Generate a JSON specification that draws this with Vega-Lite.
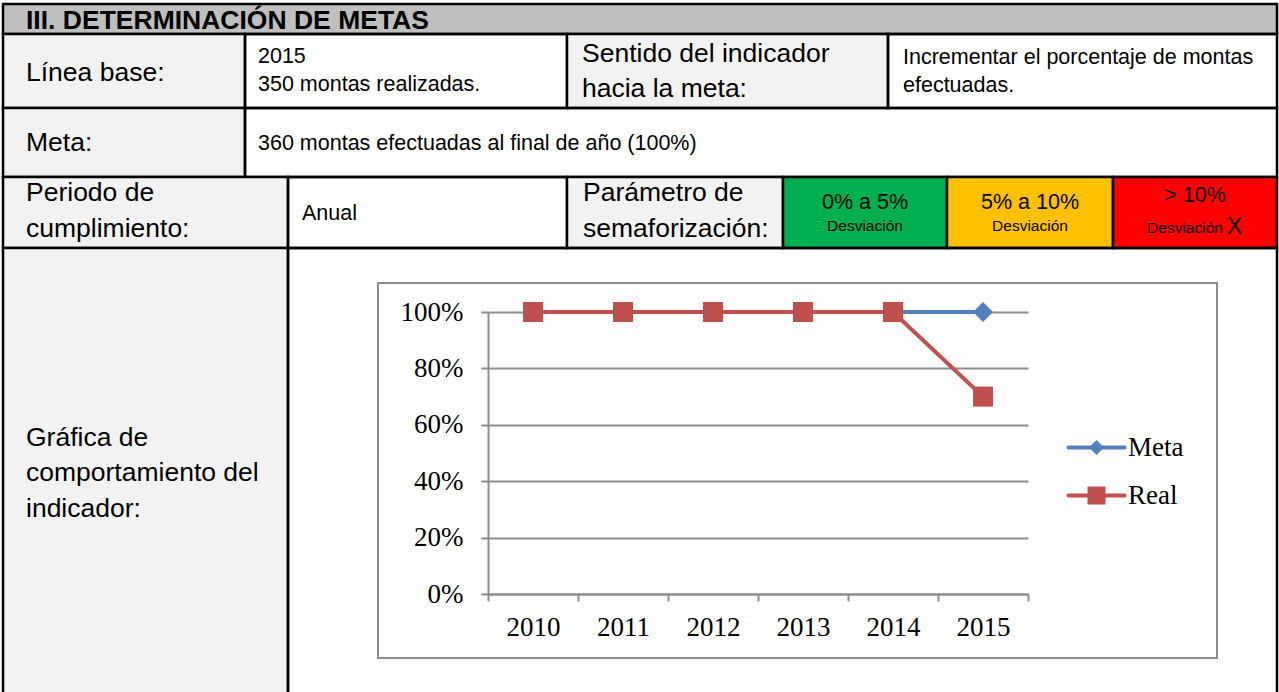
{
  "$schema": "https://vega.github.io/schema/vega-lite/v6.json",
  "width": 1279,
  "height": 692,
  "padding": 0,
  "autosize": {"type": "none"},
  "background": "white",
  "config": {"view": {"stroke": null}},
  "datasets": {
    "cells": [
      {"x1": 3, "x2": 1277, "y1": 4, "y2": 34, "kind": "header"},
      {"x1": 3, "x2": 245, "y1": 34, "y2": 108, "kind": "label"},
      {"x1": 245, "x2": 567, "y1": 34, "y2": 108, "kind": "value"},
      {"x1": 567, "x2": 888, "y1": 34, "y2": 108, "kind": "label"},
      {"x1": 888, "x2": 1277, "y1": 34, "y2": 108, "kind": "value"},
      {"x1": 3, "x2": 245, "y1": 108, "y2": 177, "kind": "label"},
      {"x1": 245, "x2": 1277, "y1": 108, "y2": 177, "kind": "value"},
      {"x1": 3, "x2": 288, "y1": 177, "y2": 248, "kind": "label"},
      {"x1": 288, "x2": 567, "y1": 177, "y2": 248, "kind": "value"},
      {"x1": 567, "x2": 783, "y1": 177, "y2": 248, "kind": "label"},
      {"x1": 783, "x2": 947, "y1": 177, "y2": 248, "kind": "green"},
      {"x1": 947, "x2": 1113, "y1": 177, "y2": 248, "kind": "yellow"},
      {"x1": 1113, "x2": 1277, "y1": 177, "y2": 248, "kind": "red"},
      {"x1": 3, "x2": 288, "y1": 248, "y2": 710, "kind": "label"},
      {"x1": 288, "x2": 1277, "y1": 248, "y2": 710, "kind": "value"}
    ],
    "frame": [{"x1": 378, "x2": 1217, "y1": 283, "y2": 658}],
    "texts": [
      {"text": "III. DETERMINACIÓN DE METAS", "x": 26, "y": 29, "role": "heading", "align": "left"},
      {"text": "Línea base:", "x": 26, "y": 81, "role": "label", "align": "left"},
      {"text": "2015", "x": 258, "y": 63, "role": "value", "align": "left"},
      {"text": "350 montas realizadas.", "x": 258, "y": 91, "role": "value", "align": "left"},
      {"text": "Sentido del indicador", "x": 582, "y": 62, "role": "label", "align": "left"},
      {"text": "hacia la meta:", "x": 582, "y": 97, "role": "label", "align": "left"},
      {"text": "Incrementar el porcentaje de montas", "x": 903, "y": 64, "role": "value", "align": "left"},
      {"text": "efectuadas.", "x": 903, "y": 92, "role": "value", "align": "left"},
      {"text": "Meta:", "x": 26, "y": 151, "role": "label", "align": "left"},
      {"text": "360 montas efectuadas al final de año (100%)", "x": 258, "y": 150, "role": "value", "align": "left"},
      {"text": "Periodo de", "x": 26, "y": 201, "role": "label", "align": "left"},
      {"text": "cumplimiento:", "x": 26, "y": 237, "role": "label", "align": "left"},
      {"text": "Anual", "x": 302, "y": 220, "role": "value", "align": "left"},
      {"text": "Parámetro de", "x": 583, "y": 201, "role": "label", "align": "left"},
      {"text": "semaforización:", "x": 583, "y": 237, "role": "label", "align": "left"},
      {"text": "0% a 5%", "x": 865, "y": 209, "role": "value", "align": "center"},
      {"text": "Desviación", "x": 865, "y": 231, "role": "dev", "align": "center"},
      {"text": "5% a 10%", "x": 1030, "y": 209, "role": "value", "align": "center"},
      {"text": "Desviación", "x": 1030, "y": 231, "role": "dev", "align": "center"},
      {"text": "> 10%", "x": 1195, "y": 202, "role": "value", "align": "center"},
      {"text": "Desviación", "x": 1185, "y": 233, "role": "dev", "align": "center"},
      {"text": "X", "x": 1227, "y": 234, "role": "x", "align": "left"},
      {"text": "Gráfica de", "x": 26, "y": 446, "role": "label", "align": "left"},
      {"text": "comportamiento del", "x": 26, "y": 481, "role": "label", "align": "left"},
      {"text": "indicador:", "x": 26, "y": 517, "role": "label", "align": "left"}
    ],
    "series": [
      {"year": "2010", "series": "Meta", "value": 1},
      {"year": "2011", "series": "Meta", "value": 1},
      {"year": "2012", "series": "Meta", "value": 1},
      {"year": "2013", "series": "Meta", "value": 1},
      {"year": "2014", "series": "Meta", "value": 1},
      {"year": "2015", "series": "Meta", "value": 1},
      {"year": "2010", "series": "Real", "value": 1},
      {"year": "2011", "series": "Real", "value": 1},
      {"year": "2012", "series": "Real", "value": 1},
      {"year": "2013", "series": "Real", "value": 1},
      {"year": "2014", "series": "Real", "value": 1},
      {"year": "2015", "series": "Real", "value": 0.7}
    ]
  },
  "layer": [
    {
      "encoding": {
        "x": {"field": "x1", "type": "quantitative", "scale": {"domain": [0, 1279], "nice": false, "zero": false}, "axis": null},
        "y": {"field": "y1", "type": "quantitative", "scale": {"domain": [0, 692], "nice": false, "zero": false, "reverse": true}, "axis": null}
      },
      "layer": [
        {
          "data": {"name": "cells"},
          "mark": {"type": "rect", "stroke": "black", "strokeWidth": 2.5},
          "encoding": {
            "x2": {"field": "x2"},
            "y2": {"field": "y2"},
            "fill": {"field": "kind", "type": "nominal", "scale": {"domain": ["header", "label", "value", "green", "yellow", "red"], "range": ["#BFBFBF", "#F2F2F2", "transparent", "#00B050", "#FFC000", "#FF0000"]}, "legend": null}
          }
        },
        {
          "data": {"name": "frame"},
          "mark": {"type": "rect", "fill": "transparent", "stroke": "#8C8C8C", "strokeWidth": 2},
          "encoding": {"x2": {"field": "x2"}, "y2": {"field": "y2"}}
        },
        {
          "data": {"name": "texts"},
          "transform": [{"filter": "datum.align === 'left' && datum.role !== 'heading'"}],
          "mark": {"type": "text", "align": "left", "baseline": "alphabetic", "font": "Liberation Sans", "color": "black"},
          "encoding": {
            "x": {"field": "x", "type": "quantitative"},
            "y": {"field": "y", "type": "quantitative"},
            "text": {"field": "text"},
            "size": {"field": "role", "type": "ordinal", "scale": {"type": "ordinal", "domain": ["heading", "label", "value", "dev", "x"], "range": [26.5, 26.5, 21.5, 15.5, 23]}, "legend": null}
          }
        },
        {
          "data": {"name": "texts"},
          "transform": [{"filter": "datum.role === 'heading'"}],
          "mark": {"type": "text", "align": "left", "baseline": "alphabetic", "font": "Liberation Sans", "fontWeight": "bold", "color": "black"},
          "encoding": {
            "x": {"field": "x", "type": "quantitative"},
            "y": {"field": "y", "type": "quantitative"},
            "text": {"field": "text"},
            "size": {"field": "role", "type": "ordinal", "scale": {"type": "ordinal", "domain": ["heading", "label", "value", "dev", "x"], "range": [26.5, 26.5, 21.5, 15.5, 23]}, "legend": null}
          }
        },
        {
          "data": {"name": "texts"},
          "transform": [{"filter": "datum.align === 'center'"}],
          "mark": {"type": "text", "align": "center", "baseline": "alphabetic", "font": "Liberation Sans", "color": "black"},
          "encoding": {
            "x": {"field": "x", "type": "quantitative"},
            "y": {"field": "y", "type": "quantitative"},
            "text": {"field": "text"},
            "size": {"field": "role", "type": "ordinal", "scale": {"type": "ordinal", "domain": ["heading", "label", "value", "dev", "x"], "range": [26.5, 26.5, 21.5, 15.5, 23]}, "legend": null}
          }
        }
      ]
    },
    {
      "data": {"name": "series"},
      "encoding": {
        "x": {
          "field": "year", "type": "ordinal",
          "scale": {"type": "band", "range": [488, 1028], "paddingInner": 0, "paddingOuter": 0},
          "axis": {"orient": "bottom", "offset": -98, "title": null, "tickBand": "extent", "grid": false, "labelAngle": 0,
            "domainColor": "#8C8C8C", "domainWidth": 2, "tickColor": "#8C8C8C", "tickWidth": 2, "tickSize": 7,
            "labelFont": "Liberation Serif", "labelFontSize": 27, "labelColor": "black", "labelPadding": 13}
        },
        "y": {
          "field": "value", "type": "quantitative",
          "scale": {"domain": [0, 1], "range": [594, 312], "nice": false},
          "axis": {"orient": "left", "offset": -488, "title": null, "format": ".0%", "values": [0, 0.2, 0.4, 0.6, 0.8, 1],
            "grid": true, "gridColor": "#8C8C8C", "gridWidth": 2,
            "domainColor": "#8C8C8C", "domainWidth": 2, "tickColor": "#8C8C8C", "tickWidth": 2, "tickSize": 7,
            "labelFont": "Liberation Serif", "labelFontSize": 27, "labelColor": "black", "labelPadding": 18}
        }
      },
      "layer": [
        {
          "mark": {"type": "line", "strokeWidth": 4, "strokeCap": "round", "strokeJoin": "round"},
          "encoding": {
            "color": {
              "field": "series", "type": "nominal",
              "scale": {"domain": ["Meta", "Real"], "range": ["#4F81BD", "#C0504D"]},
              "legend": {
                "orient": "none", "legendX": 1083, "legendY": 434, "title": null, "padding": 0,
                "labelFont": "Liberation Serif", "labelFontSize": 27, "labelColor": "black", "labelOffset": 18,
                "symbolSize": 100, "rowPadding": 20, "labelBaseline": "middle",
                "encode": {
                  "symbols": {
                    "update": {
                      "shape": {"signal": "datum.value === 'Meta' ? 'M-5.6,-0.4L5.6,-0.4A0.4,0.4,0,0,1,5.6,0.4L-5.6,0.4A0.4,0.4,0,0,1,-5.6,-0.4ZM0,-1.5L1.5,0L0,1.5L-1.5,0Z' : 'M-5.6,-0.4L5.6,-0.4A0.4,0.4,0,0,1,5.6,0.4L-5.6,0.4A0.4,0.4,0,0,1,-5.6,-0.4ZM-1.8,-1.8L1.8,-1.8L1.8,1.8L-1.8,1.8Z'"},
                      "fill": {"scale": "color", "field": "value"},
                      "size": {"value": 100},
                      "strokeWidth": {"value": 0},
                      "opacity": {"value": 1}
                    }
                  }
                }
              }
            }
          }
        },
        {
          "transform": [{"filter": "datum.series === 'Meta'"}],
          "mark": {"type": "point", "shape": "diamond", "filled": true, "size": 400, "opacity": 1},
          "encoding": {
            "color": {"field": "series", "type": "nominal", "legend": null}
          }
        },
        {
          "transform": [{"filter": "datum.series === 'Real'"}],
          "mark": {"type": "point", "shape": "square", "filled": true, "size": 400, "opacity": 1},
          "encoding": {
            "color": {"field": "series", "type": "nominal", "legend": null}
          }
        }
      ]
    }
  ],
  "resolve": {"scale": {"x": "independent", "y": "independent"}, "axis": {"x": "independent", "y": "independent"}}
}
